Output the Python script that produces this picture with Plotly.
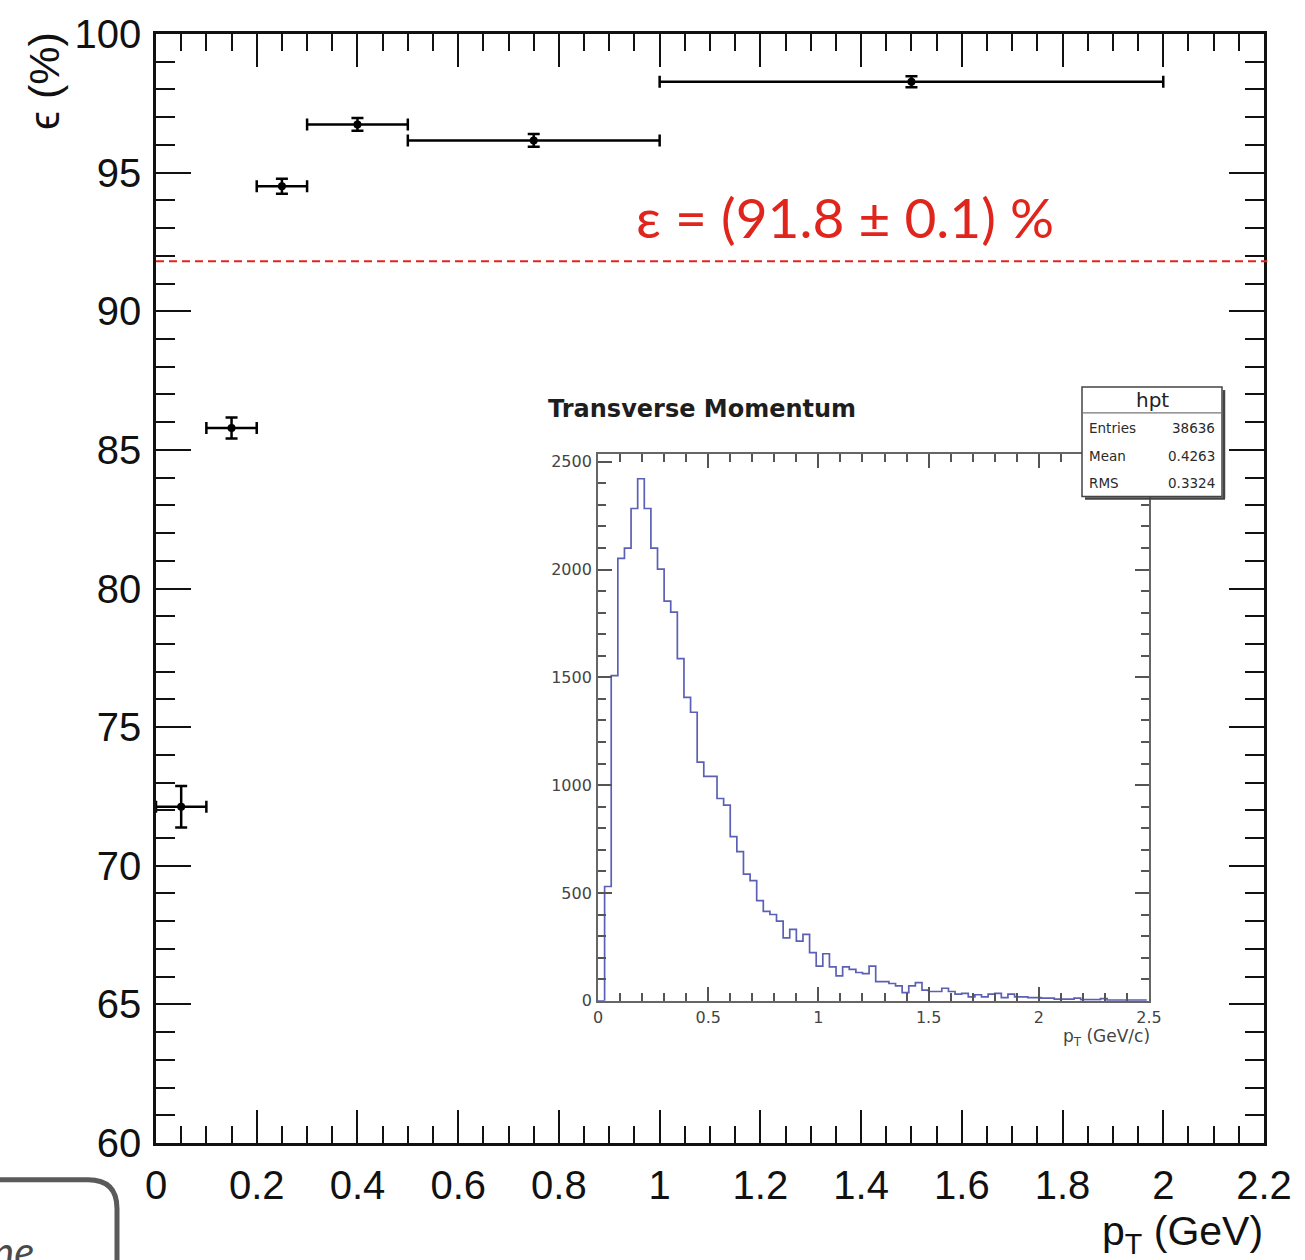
import numpy as np
import plotly.graph_objects as go

# ---- Track-finding efficiency vs transverse momentum ----
pt_center = [0.05, 0.15, 0.25, 0.40, 0.75, 1.50]
pt_halfwidth = [0.05, 0.05, 0.05, 0.10, 0.25, 0.50]
eff = [72.13, 85.79, 94.51, 96.74, 96.16, 98.28]
eff_err = [0.75, 0.38, 0.27, 0.23, 0.23, 0.20]
eff_mean = 91.8
eff_mean_err = 0.1

# ---- hpt: transverse momentum spectrum (bin width 0.03 GeV/c) ----
hpt_bin_width = 0.03
hpt_counts = [
    0, 530, 1508, 2052, 2099, 2283, 2421, 2283, 2099, 2002,
    1853, 1802, 1587, 1407, 1338, 1107, 1041, 1041, 938, 907,
    761, 692, 587, 557, 464, 415, 400, 369, 292, 331,
    277, 308, 223, 161, 218, 157, 115, 157, 146, 131,
    126, 161, 89, 89, 80, 69, 38, 69, 84, 49,
    43, 43, 58, 43, 31, 34, 18, 28, 18, 31,
    34, 15, 31, 18, 18, 15, 15, 12, 12, 8,
    8, 8, 12, 5, 5, 5, 10, 3, 3, 3,
    3, 3, 3,
]
hpt_entries = 38636
hpt_mean = 0.4263
hpt_rms = 0.3324

# ---- page geometry (pixels) ----
W, H = 1305, 1260
L, R, T, B = 156, 1264, 28, 1143


def px_x(p):
    return (p - L) / (R - L)


def px_y(p):
    return (B - p) / (B - T)


RED = "#e0261c"
INK = "#111111"
GREY = "#5a5a5a"
SANS = "Liberation Sans, Arial, sans-serif"
WIDE = "DejaVu Sans, Verdana, sans-serif"

fig = go.Figure()

# efficiency points with pT-bin widths and statistical errors
fig.add_trace(go.Scatter(
    x=pt_center, y=eff, mode="markers",
    marker=dict(color="black", size=8),
    error_x=dict(type="data", array=pt_halfwidth, color="black", thickness=2.5, width=6),
    error_y=dict(type="data", array=eff_err, color="black", thickness=2.5, width=6),
    showlegend=False, xaxis="x", yaxis="y", cliponaxis=False,
))

# inset histogram drawn as steps
edges = np.arange(len(hpt_counts) + 1) * hpt_bin_width
step_y = list(hpt_counts) + [hpt_counts[-1]]
fig.add_trace(go.Scatter(
    x=edges, y=step_y, mode="lines", line=dict(color="#5b60b4", width=1.7, shape="hv"),
    showlegend=False, xaxis="x2", yaxis="y2",
))

axis_font = dict(family=SANS, size=40, color=INK)
small_font = dict(family=WIDE, size=16, color="#444444")

fig.update_layout(
    width=W, height=H,
    margin=dict(l=L, r=W - R, t=T, b=H - B, pad=0),
    paper_bgcolor="white", plot_bgcolor="white",
    showlegend=False,
    xaxis=dict(
        range=[0, 2.2], tick0=0, dtick=0.2, ticks="inside", ticklen=33, tickwidth=2,
        tickcolor=INK, showline=True, linecolor=INK, linewidth=2.5, mirror="ticks",
        showgrid=False, zeroline=False, tickfont=axis_font, ticklabelstandoff=5,
        minor=dict(dtick=0.05, ticks="inside", ticklen=17, tickwidth=2, tickcolor=INK, showgrid=False),
    ),
    yaxis=dict(
        range=[60, 100], tick0=60, dtick=5, ticks="inside", ticklen=35, tickwidth=2,
        tickcolor=INK, showline=True, linecolor=INK, linewidth=2.5, mirror="ticks",
        showgrid=False, zeroline=False, tickfont=axis_font, ticklabelstandoff=4,
        minor=dict(dtick=1, ticks="inside", ticklen=19, tickwidth=2, tickcolor=INK, showgrid=False),
    ),
    xaxis2=dict(
        domain=[px_x(598), px_x(1149)], anchor="y2", range=[0, 2.5], tick0=0, dtick=0.5,
        ticks="inside", ticklen=14, tickwidth=1.5, tickcolor="#555555",
        showline=True, linecolor="#666666", linewidth=1.8, mirror="ticks",
        showgrid=False, zeroline=False, tickfont=small_font, ticklabelstandoff=1,
        minor=dict(dtick=0.1, ticks="inside", ticklen=8, tickwidth=1.5, tickcolor="#555555", showgrid=False),
    ),
    yaxis2=dict(
        domain=[px_y(1000), px_y(450)], anchor="x2", range=[0, 2537], tick0=0, dtick=500,
        ticks="inside", ticklen=14, tickwidth=1.5, tickcolor="#555555",
        showline=True, linecolor="#666666", linewidth=1.8, mirror="ticks",
        showgrid=False, zeroline=False, tickfont=small_font, ticklabelstandoff=1,
        minor=dict(dtick=100, ticks="inside", ticklen=8, tickwidth=1.5, tickcolor="#555555", showgrid=False),
    ),
)

shapes = []
# average efficiency line
shapes.append(dict(
    type="line", xref="paper", yref="y", x0=0, x1=1.003, y0=eff_mean, y1=eff_mean,
    line=dict(color=RED, width=2, dash="8px,5px"),
))

# stats box for hpt (with shadow)
shapes.append(dict(
    type="rect", xref="paper", yref="paper",
    x0=px_x(1082), x1=px_x(1222), y0=px_y(493), y1=px_y(383),
    fillcolor="white", line=dict(color="#444444", width=1.5), layer="above",
))
shapes.append(dict(
    type="line", xref="paper", yref="paper",
    x0=px_x(1224), x1=px_x(1224), y0=px_y(386), y1=px_y(495),
    line=dict(color="#444444", width=2.5),
))
shapes.append(dict(
    type="line", xref="paper", yref="paper",
    x0=px_x(1085), x1=px_x(1225), y0=px_y(495), y1=px_y(495),
    line=dict(color="#444444", width=2.5),
))
shapes.append(dict(
    type="line", xref="paper", yref="paper",
    x0=px_x(1082), x1=px_x(1222), y0=px_y(409), y1=px_y(409),
    line=dict(color="#777777", width=1.2),
))

# rounded frame in the lower-left corner
p = [(-5, 1180), (88, 1180), (117, 1180), (117, 1209), (117, 1275)]
path = "M {:.5f},{:.5f} L {:.5f},{:.5f} Q {:.5f},{:.5f} {:.5f},{:.5f} L {:.5f},{:.5f}".format(
    px_x(p[0][0]), px_y(p[0][1]), px_x(p[1][0]), px_y(p[1][1]),
    px_x(p[2][0]), px_y(p[2][1]), px_x(p[3][0]), px_y(p[3][1]),
    px_x(p[4][0]), px_y(p[4][1]),
)
shapes.append(dict(type="path", xref="paper", yref="paper", path=path,
                   line=dict(color=GREY, width=5)))

fig.update_layout(shapes=shapes)

ann = []
# axis titles
ann.append(dict(
    text="ϵ (%)", xref="paper", yref="paper", x=px_x(44), y=px_y(24),
    xanchor="center", yanchor="top", textangle=-90, showarrow=False,
    font=dict(family=SANS, size=43, color=INK),
))
ann.append(dict(
    text="p<sub>T</sub> (GeV)", xref="paper", yref="paper", x=px_x(1265), y=px_y(1234),
    xanchor="right", yanchor="middle", showarrow=False,
    font=dict(family=SANS, size=41, color=INK),
))
# average efficiency label
ann.append(dict(
    text=f"ε = ({eff_mean:.1f} ± {eff_mean_err:.1f}) %", xref="paper", yref="paper",
    x=px_x(845), y=px_y(212), xanchor="center", yanchor="middle", showarrow=False,
    font=dict(family="Lato, sans-serif", size=55, color=RED),
))
# inset title and axis title
ann.append(dict(
    text="<b>Transverse Momentum</b>", xref="paper", yref="paper",
    x=px_x(546), y=px_y(405), xanchor="left", yanchor="middle", showarrow=False,
    font=dict(family=WIDE, size=24, color="#1e1e1e"),
))
ann.append(dict(
    text="p<sub>T</sub> (GeV/c)", xref="paper", yref="paper",
    x=px_x(1152), y=px_y(1037), xanchor="right", yanchor="middle", showarrow=False,
    font=dict(family=WIDE, size=17, color="#444444"),
))
# stats box text
stat_font = dict(family=WIDE, size=13.5, color="#2a2a2a")
ann.append(dict(
    text="hpt", xref="paper", yref="paper", x=px_x(1152), y=px_y(396),
    xanchor="center", yanchor="middle", showarrow=False,
    font=dict(family=WIDE, size=20, color="#222222"),
))
rows = [("Entries", f"{hpt_entries}", 424), ("Mean", f"{hpt_mean:.4f}", 452), ("RMS", f"{hpt_rms:.4f}", 479)]
for name, val, yy in rows:
    ann.append(dict(text=name, xref="paper", yref="paper", x=px_x(1087), y=px_y(yy),
                    xanchor="left", yanchor="middle", showarrow=False, font=stat_font))
    ann.append(dict(text=val, xref="paper", yref="paper", x=px_x(1217), y=px_y(yy),
                    xanchor="right", yanchor="middle", showarrow=False, font=stat_font))
# caption fragment in the lower-left frame
ann.append(dict(
    text="<i>ne</i>", xref="paper", yref="paper", x=px_x(36), y=px_y(1252),
    xanchor="right", yanchor="middle", showarrow=False,
    font=dict(family="Lato, sans-serif", size=42, color="#4a4a4a"),
))
fig.update_layout(annotations=ann)

fig.write_html("out.html", config=dict(displayModeBar=False))
